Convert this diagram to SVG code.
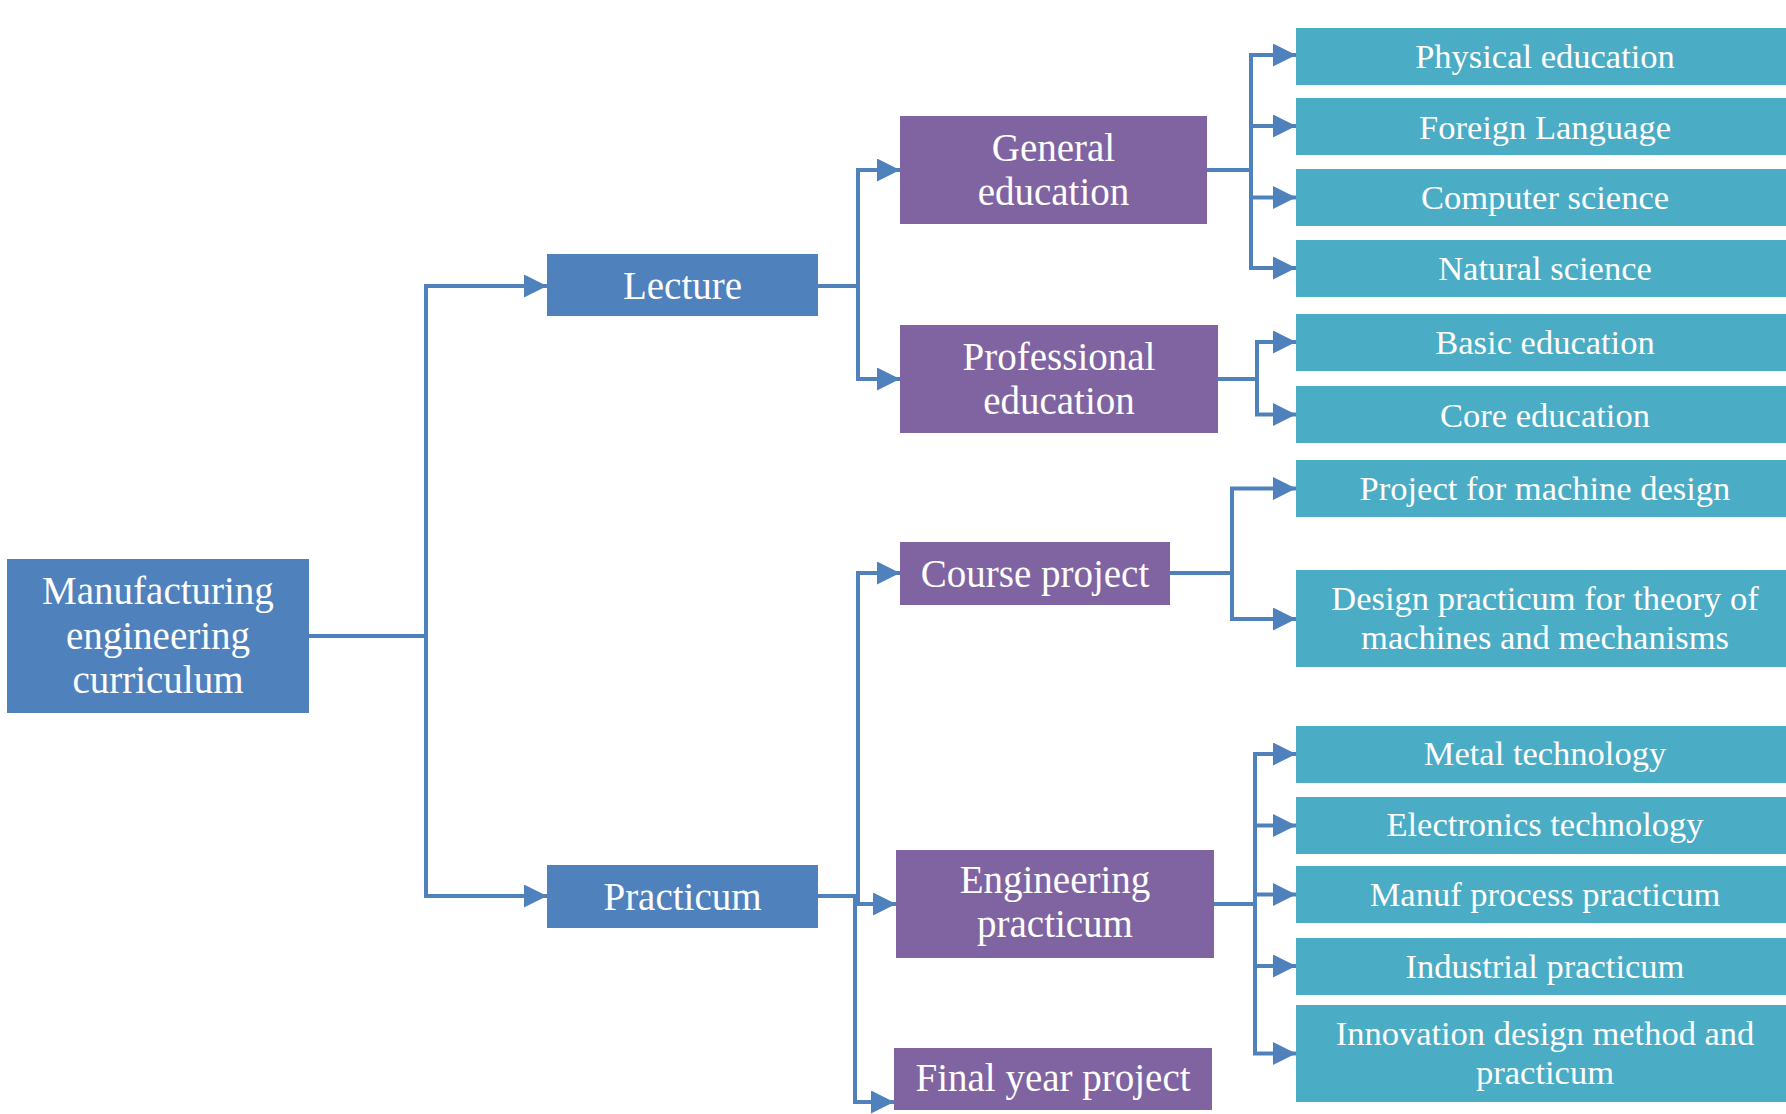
<svg xmlns="http://www.w3.org/2000/svg" width="1786" height="1114" viewBox="0 0 1786 1114">
<defs>
<style>
.blue{fill:#4F81BD}
.purple{fill:#8064A2}
.teal{fill:#4BACC6}
text{font-family:"Liberation Serif","DejaVu Serif",serif;fill:#FFFFFF;text-anchor:middle}
.big{font-size:39px}
.small{font-size:34.5px}
.conn{fill:none;stroke:#4F81BD;stroke-width:4;marker-end:url(#arrow)}
</style>
<marker id="arrow" markerUnits="userSpaceOnUse" markerWidth="23" markerHeight="23" viewBox="0 0 23 23" refX="23" refY="11.5" orient="auto">
<path d="M0,0 L23,11.5 L0,23 z" fill="#4F81BD"/>
</marker>
</defs>
<rect width="1786" height="1114" fill="#FFFFFF"/>
<g id="connectors">
<path class="conn" d="M309,636 H426 V286 H547"/>
<path class="conn" d="M426,636 V896 H547"/>
<path class="conn" d="M818,286 H858 V170 H900"/>
<path class="conn" d="M858,286 V379 H900"/>
<path class="conn" d="M818,896 H858 V573 H900"/>
<path class="conn" d="M858,896 V904 H896"/>
<path class="conn" d="M855,896 V1102 H894"/>
<path class="conn" d="M1207,170 H1251 V55 H1296"/>
<path class="conn" d="M1251,170 V126 H1296"/>
<path class="conn" d="M1251,170 V197.5 H1296"/>
<path class="conn" d="M1251,170 V268 H1296"/>
<path class="conn" d="M1218,379 H1257 V342 H1296"/>
<path class="conn" d="M1257,379 V414.5 H1296"/>
<path class="conn" d="M1170,573 H1232 V488.5 H1296"/>
<path class="conn" d="M1232,573 V619 H1296"/>
<path class="conn" d="M1214,904 H1255 V754 H1296"/>
<path class="conn" d="M1255,904 V825.5 H1296"/>
<path class="conn" d="M1255,904 V894.5 H1296"/>
<path class="conn" d="M1255,904 V966 H1296"/>
<path class="conn" d="M1255,904 V1053.5 H1296"/>
</g>
<g id="root"><rect class="blue" x="7" y="559" width="302" height="154"/>
<text class="big" x="158" y="604">Manufacturing</text><text class="big" x="158" y="649">engineering</text><text class="big" x="158" y="693">curriculum</text></g>
<g id="lecture"><rect class="blue" x="547" y="254" width="271" height="62"/><text class="big" x="682.5" y="298.5">Lecture</text></g>
<g id="practicum"><rect class="blue" x="547" y="865" width="271" height="63"/><text class="big" x="682.5" y="909.5">Practicum</text></g>
<g id="general"><rect class="purple" x="900" y="116" width="307" height="108"/><text class="big" x="1053.5" y="160.5">General</text><text class="big" x="1053.5" y="205">education</text></g>
<g id="professional"><rect class="purple" x="900" y="325" width="318" height="108"/><text class="big" x="1059" y="369.5">Professional</text><text class="big" x="1059" y="414">education</text></g>
<g id="course"><rect class="purple" x="900" y="542" width="270" height="63"/><text class="big" x="1035" y="586.5">Course project</text></g>
<g id="engineering"><rect class="purple" x="896" y="850" width="318" height="108"/><text class="big" x="1055" y="893">Engineering</text><text class="big" x="1055" y="937">practicum</text></g>
<g id="final"><rect class="purple" x="894" y="1048" width="318" height="62"/><text class="big" x="1053" y="1091">Final year project</text></g>
<g id="physical"><rect class="teal" x="1296" y="28" width="500" height="57"/><text class="small" x="1545" y="68">Physical education</text></g>
<g id="foreign"><rect class="teal" x="1296" y="98" width="500" height="57"/><text class="small" x="1545" y="138.5">Foreign Language</text></g>
<g id="computer"><rect class="teal" x="1296" y="169" width="500" height="57"/><text class="small" x="1545" y="209">Computer science</text></g>
<g id="natural"><rect class="teal" x="1296" y="240" width="500" height="57"/><text class="small" x="1545" y="279.5">Natural science</text></g>
<g id="basic"><rect class="teal" x="1296" y="314" width="500" height="57"/><text class="small" x="1545" y="353.5">Basic education</text></g>
<g id="core"><rect class="teal" x="1296" y="386" width="500" height="57"/><text class="small" x="1545" y="426.5">Core education</text></g>
<g id="project"><rect class="teal" x="1296" y="460" width="500" height="57"/><text class="small" x="1545" y="500">Project for machine design</text></g>
<g id="design"><rect class="teal" x="1296" y="570" width="500" height="97"/><text class="small" x="1545" y="609.5">Design practicum for theory of</text><text class="small" x="1545" y="649">machines and mechanisms</text></g>
<g id="metal"><rect class="teal" x="1296" y="726" width="500" height="57"/><text class="small" x="1545" y="764.5">Metal technology</text></g>
<g id="electronics"><rect class="teal" x="1296" y="797" width="500" height="57"/><text class="small" x="1545" y="836">Electronics technology</text></g>
<g id="manuf"><rect class="teal" x="1296" y="866" width="500" height="57"/><text class="small" x="1545" y="906">Manuf process practicum</text></g>
<g id="industrial"><rect class="teal" x="1296" y="938" width="500" height="57"/><text class="small" x="1545" y="977.5">Industrial practicum</text></g>
<g id="innovation"><rect class="teal" x="1296" y="1005" width="500" height="97"/><text class="small" x="1545" y="1045">Innovation design method and</text><text class="small" x="1545" y="1084">practicum</text></g>
</svg>
